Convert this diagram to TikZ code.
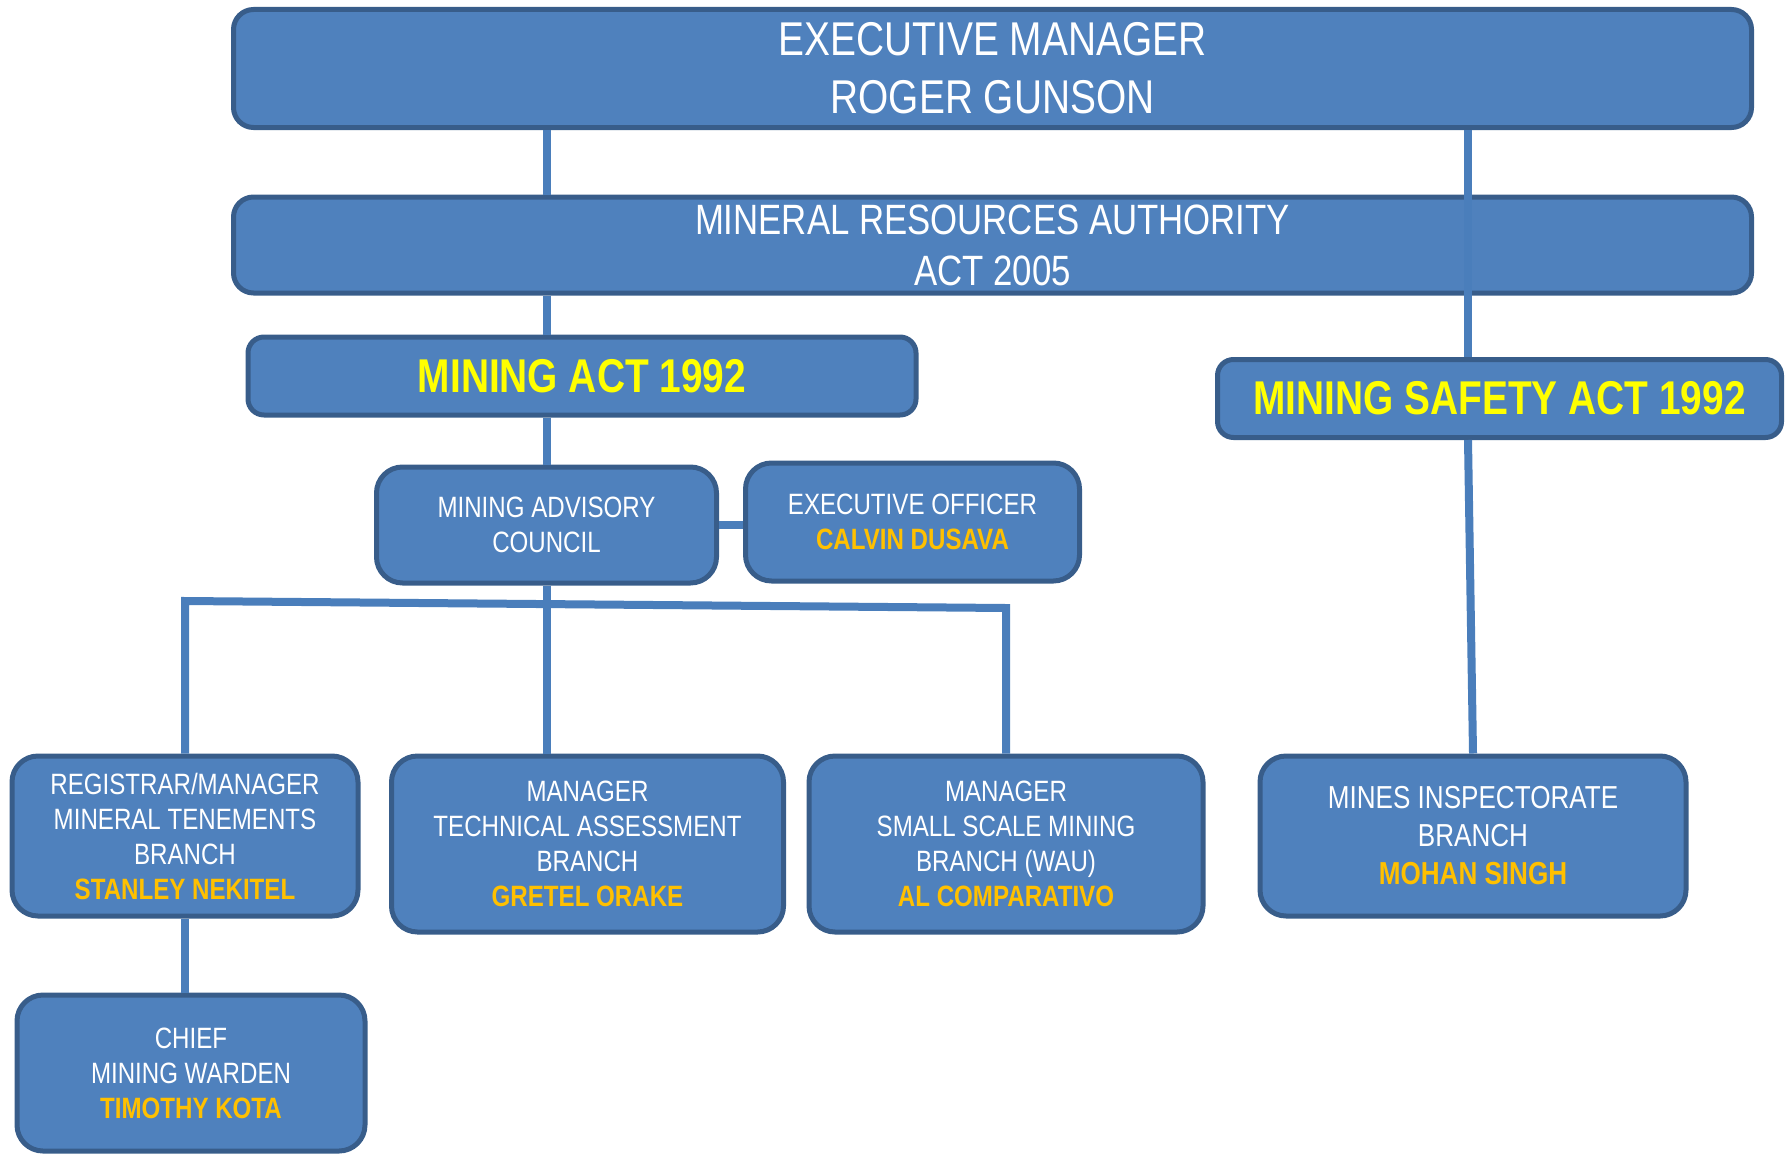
\documentclass[tikz,border=0pt]{standalone}
\usepackage{fontspec}
\setmainfont{Liberation Sans}[FakeStretch=0.82]
\definecolor{boxfill}{RGB}{79,129,189}
\definecolor{boxline}{RGB}{56,93,138}
\definecolor{linkblue}{RGB}{74,126,187}
\definecolor{namegold}{RGB}{255,192,0}
\definecolor{actyellow}{RGB}{255,255,0}
\newcommand{\who}[1]{\textbf{\color{namegold}#1}}
\begin{document}
\begin{tikzpicture}
    [x=0.5pt, y=-0.5pt,
     unit/.style = {draw=boxline, fill=boxfill, line width=2.5pt, rounded corners=13pt,
                    text=white, align=center, inner sep=0pt, font=\fontsize{14.7}{17.5}\selectfont},
     head/.style = {unit, rounded corners=10pt, font=\fontsize{23.7}{29}\selectfont},
     act/.style = {unit, rounded corners=8pt, text=actyellow, font=\fontsize{23.7}{29}\selectfont\bfseries},
     link/.style = {draw=linkblue, line width=4pt}]
    \useasboundingbox (0,0) rectangle (1786,1156);
    \node[head, minimum width=759pt, minimum height=59pt] (exec) at (992.5,68.5)
        {EXECUTIVE MANAGER\\ROGER GUNSON};
    \node[head, minimum width=759pt, minimum height=48pt, font=\fontsize{21.2}{25.5}\selectfont] (mra) at (992.5,245)
        {MINERAL RESOURCES AUTHORITY\\ACT 2005};
    \node[act, minimum width=334pt, minimum height=39pt] (mact) at (582,376) {MINING ACT 1992};
    \node[act, minimum width=282pt, minimum height=39pt] (msafe) at (1499.5,398.5) {MINING SAFETY ACT 1992};
    \node[unit, minimum width=170pt, minimum height=58pt] (mac) at (546.5,525) {MINING ADVISORY\\COUNCIL};
    \node[unit, minimum width=167pt, minimum height=59pt] (eo) at (912.5,522)
        {EXECUTIVE OFFICER\\\who{CALVIN DUSAVA}};
    \node[unit, minimum width=173pt, minimum height=80pt] (reg) at (185,836)
        {REGISTRAR/MANAGER\\MINERAL TENEMENTS\\BRANCH\\\who{STANLEY NEKITEL}};
    \node[unit, minimum width=196pt, minimum height=88pt] (tech) at (587.5,844)
        {MANAGER\\TECHNICAL ASSESSMENT\\BRANCH\\\who{GRETEL ORAKE}};
    \node[unit, minimum width=197pt, minimum height=88pt] (small) at (1006,844)
        {MANAGER\\SMALL SCALE MINING\\BRANCH (WAU)\\\who{AL COMPARATIVO}};
    \node[unit, minimum width=213pt, minimum height=80pt, font=\fontsize{15.9}{19}\selectfont] (mines) at (1473,836)
        {MINES INSPECTORATE\\BRANCH\\\who{MOHAN SINGH}};
    \node[unit, minimum width=174pt, minimum height=78pt] (chief) at (191,1073)
        {CHIEF\\MINING WARDEN\\\who{TIMOTHY KOTA}};
    \coordinate (sx) at (1468,0);
    \coordinate (busL) at (185,601);
    \coordinate (busR) at (1006,608);
    \draw[link] (exec.south -| mac.north) -- (mra.north -| mac.north);
    \draw[link] (mra.south -| mac.north) -- (mact.north -| mac.north);
    \draw[link] (mact.south -| mac.north) -- (mac.north);
    \draw[link] (mac.east) -- (mac.east -| eo.west);
    \draw[link] (mac.south) -- (mac.south |- tech.north);
    \draw[link] (reg.north) -- (busL) -- (busR) -- (small.north);
    \draw[link] (reg.south) -- (reg.south |- chief.north);
    \draw[link] (exec.south -| sx) -- (msafe.north -| sx);
    \draw[link] (msafe.south -| sx) -- (mines.north);
\end{tikzpicture}
\end{document}
